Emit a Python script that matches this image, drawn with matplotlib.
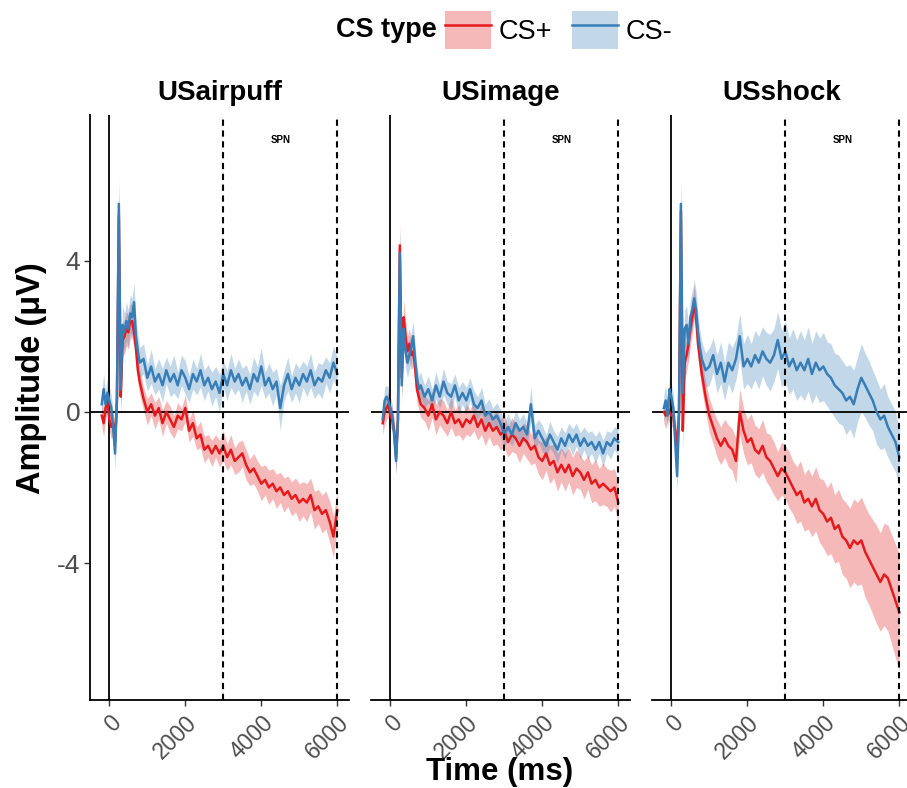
import numpy as np
import matplotlib
matplotlib.use("Agg")
import matplotlib.pyplot as plt
from matplotlib.patches import Patch
from matplotlib.lines import Line2D
from matplotlib.legend_handler import HandlerTuple

plt.rcParams['font.family'] = ['Liberation Sans', 'DejaVu Sans']

# sample times: 50 ms steps around the stimulus, 100 ms afterwards
time_ms = np.concatenate([np.arange(-200, 801, 50), np.arange(900, 6001, 100)])

conditions = ["USairpuff", "USimage", "USshock"]
cs_labels = ["CS+", "CS-"]

# ---- USairpuff ----
airpuff_plus = [
    -0.1, -0.3, 0.1, 0.3, -0.2, -0.4, -0.3, -0.8, 0.3, 5.2, 0.4, 1.9, 2.0, 2.2, 2.1, 2.4, 2.4, 2.1, 1.7, 1.1, 0.8,
    0.35, 0.0, 0.2, -0.1, 0.1, -0.3, 0.0, -0.2, -0.4, -0.1,
    -0.2, 0.1, -0.5, -0.3, -0.7, -0.6, -1.0, -0.9, -1.1, -0.9,
    -1.1, -0.9, -1.2, -1.0, -1.3, -1.2, -1.1, -1.4, -1.6, -1.5,
    -1.7, -1.9, -1.8, -2.0, -1.9, -2.1, -2.0, -2.2, -2.1, -2.3,
    -2.2, -2.4, -2.3, -2.4, -2.2, -2.6, -2.5, -2.7, -2.6, -2.9,
    -3.3, -2.6,
]
airpuff_minus = [
    0.2, 0.6, 0.2, 0.5, 0.3, 0.1, -0.4, -1.1, 0.4, 5.5, 0.6, 2.3, 2.1, 2.4, 2.2, 2.6, 2.5, 2.9, 2.0, 1.6, 1.3,
    1.4, 0.9, 1.2, 0.8, 1.0, 0.7, 1.1, 0.8, 1.0, 0.7,
    1.1, 0.9, 0.6, 1.0, 0.8, 1.1, 0.7, 0.9, 0.6, 0.8,
    0.5, 1.0, 0.7, 1.1, 0.8, 1.0, 0.7, 0.9, 0.6, 1.0,
    0.8, 1.2, 0.7, 0.9, 0.6, 0.8, 0.1, 0.7, 1.0, 0.6,
    0.9, 0.7, 1.0, 0.8, 1.1, 0.7, 0.9, 0.8, 1.1, 0.9,
    1.3, 1.0,
]
airpuff_plus_se = [
    0.3, 0.35, 0.3, 0.3, 0.3, 0.3, 0.35, 0.4, 0.5, 0.7, 0.5, 0.45, 0.45, 0.45, 0.45, 0.45, 0.45, 0.4, 0.4, 0.35, 0.35,
    0.3, 0.35, 0.3, 0.35, 0.3, 0.35, 0.3, 0.35, 0.3, 0.35,
    0.3, 0.35, 0.3, 0.35, 0.3, 0.35, 0.35, 0.3, 0.35, 0.3,
    0.35, 0.4, 0.35, 0.4, 0.35, 0.4, 0.35, 0.4, 0.35, 0.4,
    0.4, 0.45, 0.4, 0.45, 0.4, 0.45, 0.4, 0.45, 0.4, 0.45,
    0.45, 0.5, 0.45, 0.5, 0.45, 0.5, 0.45, 0.5, 0.5, 0.55,
    0.55, 0.5,
]
airpuff_minus_se = [
    0.35, 0.4, 0.35, 0.4, 0.35, 0.35, 0.35, 0.4, 0.5, 0.7, 0.5, 0.5, 0.5, 0.5, 0.5, 0.5, 0.5, 0.5, 0.45, 0.45, 0.4,
    0.4, 0.35, 0.45, 0.35, 0.4, 0.45, 0.35, 0.4, 0.5, 0.35,
    0.4, 0.45, 0.35, 0.4, 0.35, 0.45, 0.4, 0.35, 0.45, 0.4,
    0.5, 0.35, 0.4, 0.45, 0.35, 0.4, 0.45, 0.35, 0.4, 0.45,
    0.4, 0.5, 0.35, 0.4, 0.45, 0.35, 0.6, 0.4, 0.45, 0.35,
    0.4, 0.45, 0.35, 0.4, 0.45, 0.35, 0.4, 0.45, 0.35, 0.4,
    0.45, 0.4,
]

# ---- USimage ----
image_plus = [
    -0.3, 0.0, 0.1, 0.2, -0.1, -0.2, -0.5, -1.2, -0.2, 4.4, 0.9, 2.5, 2.0, 1.6, 1.8, 1.5, 1.6, 1.2, 0.6, 0.4, 0.2,
    0.1, -0.1, 0.2, -0.2, 0.0, -0.1, -0.3, 0.0, -0.3, -0.2,
    -0.4, -0.2, -0.3, -0.1, -0.4, -0.2, -0.5, -0.3, -0.5, -0.4,
    -0.6, -0.5, -0.8, -0.6, -0.7, -0.9, -0.7, -0.8, -1.0, -0.9,
    -1.2, -1.3, -1.1, -1.4, -1.3, -1.6, -1.4, -1.6, -1.4, -1.7,
    -1.5, -1.6, -1.8, -1.6, -1.9, -1.8, -2.0, -1.9, -2.0, -2.1,
    -2.0, -2.4,
]
image_minus = [
    -0.2, 0.3, 0.4, 0.3, 0.1, -0.1, -0.6, -1.3, -0.2, 4.2, 0.7, 2.2, 1.6, 1.3, 1.5, 1.7, 2.0, 1.4, 0.9, 0.6, 0.7,
    0.4, 0.6, 0.3, 0.7, 0.4, 0.8, 0.5, 0.4, 0.7, 0.3,
    0.5, 0.3, 0.6, 0.2, 0.1, 0.3, -0.1, 0.0, -0.2, -0.1,
    -0.3, -0.6, -0.4, -0.6, -0.3, -0.5, -0.4, -0.6, 0.2, -0.7,
    -0.5, -0.7, -0.9, -0.6, -0.8, -1.0, -0.7, -0.9, -0.6, -0.8,
    -0.6, -0.9, -0.7, -0.9, -0.8, -1.0, -0.8, -1.1, -0.8, -0.9,
    -0.7, -0.8,
]
image_plus_se = [
    0.3, 0.35, 0.3, 0.35, 0.3, 0.3, 0.35, 0.4, 0.45, 0.6, 0.5, 0.45, 0.45, 0.4, 0.4, 0.4, 0.4, 0.4, 0.35, 0.35, 0.35,
    0.35, 0.4, 0.35, 0.4, 0.35, 0.4, 0.35, 0.4, 0.35, 0.4,
    0.35, 0.4, 0.35, 0.4, 0.35, 0.4, 0.4, 0.35, 0.4, 0.45,
    0.4, 0.45, 0.4, 0.45, 0.4, 0.45, 0.4, 0.45, 0.4, 0.45,
    0.45, 0.5, 0.45, 0.5, 0.45, 0.5, 0.45, 0.5, 0.45, 0.5,
    0.5, 0.45, 0.5, 0.45, 0.5, 0.55, 0.5, 0.55, 0.5, 0.55,
    0.5, 0.55,
]
image_minus_se = [
    0.3, 0.35, 0.3, 0.35, 0.3, 0.3, 0.35, 0.4, 0.45, 0.6, 0.5, 0.45, 0.45, 0.4, 0.4, 0.4, 0.4, 0.4, 0.35, 0.35, 0.35,
    0.3, 0.35, 0.3, 0.35, 0.3, 0.35, 0.3, 0.35, 0.3, 0.35,
    0.3, 0.35, 0.3, 0.35, 0.3, 0.35, 0.3, 0.35, 0.3, 0.35,
    0.35, 0.3, 0.35, 0.3, 0.35, 0.3, 0.35, 0.3, 0.45, 0.35,
    0.3, 0.35, 0.3, 0.35, 0.3, 0.35, 0.3, 0.35, 0.3, 0.35,
    0.3, 0.35, 0.3, 0.35, 0.3, 0.35, 0.3, 0.35, 0.3, 0.35,
    0.3, 0.35,
]

# ---- USshock ----
shock_plus = [
    0.0, -0.1, 0.1, 0.0, -0.1, -0.1, -0.5, -1.0, 0.0, 5.3, -0.5, 1.3, 1.5, 1.8, 2.2, 2.5, 2.9, 2.5, 1.8, 1.4, 1.0,
    0.4, -0.1, -0.4, -0.7, -0.9, -0.7, -0.9, -1.0, -1.3, 0.0,
    -0.5, -0.8, -0.7, -1.0, -1.1, -0.9, -1.2, -1.3, -1.5, -1.7,
    -1.5, -1.6, -1.8, -2.0, -2.2, -2.1, -2.4, -2.3, -2.5, -2.3,
    -2.6, -2.7, -2.9, -2.8, -3.1, -3.0, -3.3, -3.4, -3.6, -3.4,
    -3.5, -3.4, -3.7, -3.9, -4.1, -4.3, -4.5, -4.3, -4.4, -4.7,
    -5.0, -5.3,
]
shock_minus = [
    0.1, 0.3, -0.1, 0.6, 0.4, 0.1, -0.8, -1.7, -0.1, 5.5, 0.5, 2.2, 2.3, 1.8, 2.5, 2.7, 3.0, 2.7, 2.1, 1.7, 1.4,
    1.1, 1.2, 1.5, 1.0, 1.3, 0.8, 1.3, 1.1, 1.4, 2.0,
    1.2, 1.4, 1.2, 1.5, 1.3, 1.6, 1.4, 1.3, 1.5, 1.9,
    1.4, 1.6, 1.2, 1.4, 1.1, 1.3, 1.1, 1.4, 1.0, 1.3,
    1.1, 1.2, 1.0, 0.9, 0.7, 0.6, 0.5, 0.3, 0.4, 0.2,
    0.6, 0.9, 0.7, 0.5, 0.3, 0.0, -0.2, -0.1, -0.4, -0.6,
    -0.8, -1.2,
]
shock_plus_se = [
    0.3, 0.35, 0.3, 0.3, 0.3, 0.3, 0.35, 0.4, 0.5, 0.7, 0.5, 0.45, 0.45, 0.45, 0.45, 0.45, 0.45, 0.4, 0.4, 0.4, 0.4,
    0.4, 0.45, 0.45, 0.5, 0.5, 0.5, 0.55, 0.55, 0.6, 0.6,
    0.6, 0.6, 0.65, 0.65, 0.65, 0.7, 0.65, 0.7, 0.7, 0.65,
    0.7, 0.7, 0.75, 0.7, 0.75, 0.8, 0.75, 0.8, 0.8, 0.85,
    0.85, 0.9, 0.9, 0.95, 0.9, 0.95, 1.0, 1.0, 1.05, 1.1,
    1.1, 1.15, 1.2, 1.2, 1.25, 1.3, 1.3, 1.35, 1.4, 1.45,
    1.5, 1.55,
]
shock_minus_se = [
    0.35, 0.4, 0.35, 0.4, 0.35, 0.35, 0.35, 0.4, 0.5, 0.7, 0.5, 0.5, 0.5, 0.5, 0.5, 0.5, 0.5, 0.5, 0.45, 0.45, 0.45,
    0.45, 0.5, 0.45, 0.5, 0.55, 0.5, 0.55, 0.6, 0.55, 0.6,
    0.6, 0.65, 0.6, 0.65, 0.7, 0.65, 0.7, 0.75, 0.7, 0.75,
    0.75, 0.8, 0.75, 0.8, 0.8, 0.85, 0.8, 0.85, 0.8, 0.85,
    0.85, 0.9, 0.85, 0.9, 0.85, 0.9, 0.85, 0.9, 0.85, 0.9,
    0.85, 0.9, 0.85, 0.85, 0.8, 0.85, 0.8, 0.85, 0.8, 0.8,
    0.8, 0.75,
]

plus_series = [airpuff_plus, image_plus, shock_plus]
minus_series = [airpuff_minus, image_minus, shock_minus]
plus_se = [airpuff_plus_se, image_plus_se, shock_plus_se]
minus_se = [airpuff_minus_se, image_minus_se, shock_minus_se]

spn_window = (3000, 6000)
x_ticks = [0, 2000, 4000, 6000]
y_ticks = [-4, 0, 4]

red = "#e41a1c"
blue = "#377eb8"
axis_text = "#4d4d4d"

fig = plt.figure(figsize=(9.07, 7.88), dpi=100)
lefts = [0.0992, 0.409, 0.7189]

for i, cond in enumerate(conditions):
    ax = fig.add_axes([lefts[i], 0.1117, 0.2856, 0.7424])
    p = np.array(plus_series[i])
    m = np.array(minus_series[i])
    pse = np.array(plus_se[i])
    mse = np.array(minus_se[i])

    ax.fill_between(time_ms, p - pse, p + pse, color=red, alpha=0.3, lw=0)
    ax.fill_between(time_ms, m - mse, m + mse, color=blue, alpha=0.3, lw=0)
    ax.plot(time_ms, p, color=red, lw=1.8)
    ax.plot(time_ms, m, color=blue, lw=1.8)

    ax.axhline(0, color="black", lw=1.3, zorder=1)
    ax.axvline(0, color="black", lw=1.3, zorder=1)
    for xv in spn_window:
        ax.axvline(xv, color="black", lw=1.5, ls=(0, (3, 2.2)), zorder=3)
    ax.text(np.mean(spn_window), 7.19, "SPN", ha="center", va="center",
            fontsize=7, fontweight="bold")

    ax.set_xlim(-510, 6310)
    ax.set_ylim(-7.62, 7.85)
    ax.set_title(cond, fontsize=20, fontweight="bold", pad=11)

    for s in ["top", "right"]:
        ax.spines[s].set_visible(False)
    ax.spines["bottom"].set_linewidth(1.3)
    ax.spines["left"].set_linewidth(1.3)

    ax.set_xticks(x_ticks)
    ax.set_xticklabels([str(t) for t in x_ticks], rotation=45, ha="right",
                       va="top", rotation_mode="anchor", fontsize=16.5, color=axis_text)
    ax.tick_params(axis="x", length=4, width=1, color="#333333", pad=4)
    if i == 0:
        ax.set_yticks(y_ticks)
        ax.set_yticklabels([str(t) for t in y_ticks], fontsize=19, color=axis_text)
        ax.tick_params(axis="y", length=4, width=1, color="#333333", pad=3)
    else:
        ax.spines["left"].set_visible(False)
        ax.set_yticks([])

fig.text(0.551, 0.02, "Time (ms)", ha="center", va="center", fontsize=22.5, fontweight="bold")
fig.text(0.035, 0.52, "Amplitude (μV)", ha="center", va="center", rotation=90,
         fontsize=23.5, fontweight="bold")

# legend: filled key with line on top, ggplot style
handles = [
    (Patch(facecolor=red, alpha=0.3, edgecolor="none"), Line2D([], [], color=red, lw=1.8)),
    (Patch(facecolor=blue, alpha=0.3, edgecolor="none"), Line2D([], [], color=blue, lw=1.8)),
]
fig.legend(handles, cs_labels, handler_map={tuple: HandlerTuple(ndivide=1)},
           ncol=2, loc="center left", bbox_to_anchor=(0.4905, 0.962), frameon=False,
           fontsize=19.5, handlelength=1.7, handleheight=1.8, handletextpad=0.3,
           columnspacing=0.7, borderaxespad=0, borderpad=0)
fig.text(0.482, 0.962, "CS type", ha="right", va="center", fontsize=19.5, fontweight="bold")

fig.savefig("out.png", dpi=100)
